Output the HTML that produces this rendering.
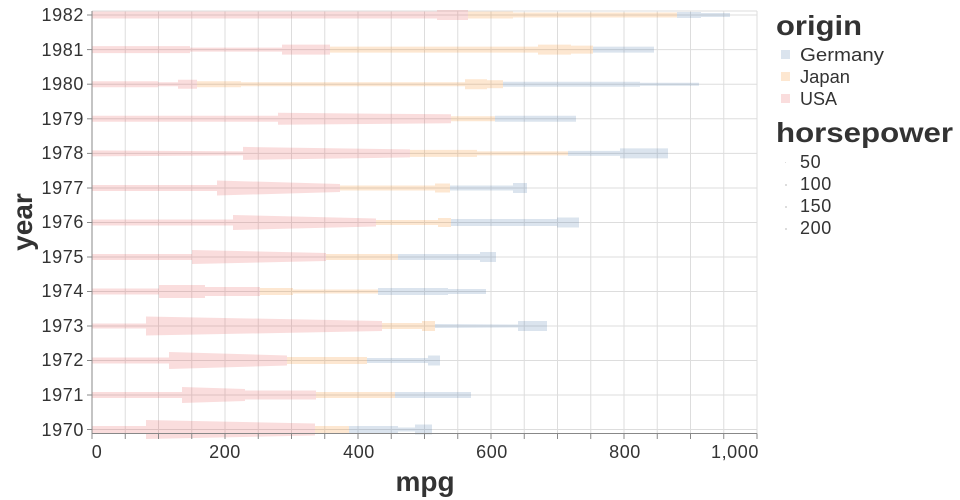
<!DOCTYPE html>
<html><head><meta charset="utf-8"><style>
html,body{margin:0;padding:0;background:#fff;width:960px;height:500px;overflow:hidden}
text{font-family:"Liberation Sans",sans-serif;fill:#333}
</style></head><body>
<svg id="s" width="960" height="500" xmlns="http://www.w3.org/2000/svg">
<g id="grid" stroke="#ddd" stroke-width="1"></g>
<g id="trails"></g>
<line x1="92" y1="433.5" x2="757" y2="433.5" stroke="#888"/>
<line x1="92" y1="11" x2="92" y2="433.5" stroke="#888"/>
<g id="ticks" stroke="#888"></g>
<g font-size="18" text-anchor="end" letter-spacing="0.6">
<text x="84" y="21">1982</text><text x="84" y="56">1981</text><text x="84" y="90">1980</text>
<text x="84" y="125">1979</text><text x="84" y="159">1978</text><text x="84" y="194">1977</text>
<text x="84" y="228">1976</text><text x="84" y="263">1975</text><text x="84" y="297">1974</text>
<text x="84" y="332">1973</text><text x="84" y="366">1972</text><text x="84" y="401">1971</text>
<text x="84" y="436">1970</text>
</g>
<g font-size="18" text-anchor="middle" letter-spacing="0.6">
<text x="97" y="458">0</text><text x="225" y="458">200</text><text x="359" y="458">400</text>
<text x="492" y="458">600</text><text x="625" y="458">800</text><text x="735" y="458">1,000</text>
</g>
<text x="425" y="491" font-size="28" font-weight="bold" text-anchor="middle">mpg</text>
<text transform="translate(32,222) rotate(-90)" font-size="28" font-weight="bold" text-anchor="middle">year</text>
<text x="776" y="35" font-size="28" font-weight="bold" textLength="86" lengthAdjust="spacingAndGlyphs">origin</text>
<rect x="781" y="50" width="9" height="9" fill="#dbe4ee"/><text x="800" y="61" font-size="18" textLength="84" lengthAdjust="spacingAndGlyphs">Germany</text>
<rect x="781" y="72" width="9" height="9" fill="#fde7d1"/><text x="800" y="83" font-size="18" textLength="50" lengthAdjust="spacingAndGlyphs">Japan</text>
<rect x="781" y="94" width="9" height="9" fill="#fadddd"/><text x="800" y="105" font-size="18" textLength="37" lengthAdjust="spacingAndGlyphs">USA</text>
<text x="776" y="142" font-size="28" font-weight="bold" textLength="177" lengthAdjust="spacingAndGlyphs">horsepower</text>
<rect x="785" y="162" width="1" height="1" fill="#ddd"/><text x="800" y="168" font-size="18" letter-spacing="0.6">50</text>
<rect x="785" y="184" width="2" height="2" fill="#ddd"/><text x="800" y="190" font-size="18" letter-spacing="0.6">100</text>
<rect x="785" y="206" width="2" height="2" fill="#ddd"/><text x="800" y="212" font-size="18" letter-spacing="0.6">150</text>
<rect x="785" y="228" width="2" height="2" fill="#ddd"/><text x="800" y="234" font-size="18" letter-spacing="0.6">200</text>
</svg>
<script>
var NS="http://www.w3.org/2000/svg";
function el(p,t,a){var e=document.createElementNS(NS,t);for(var k in a)e.setAttribute(k,a[k]);p.appendChild(e);}
var g=document.getElementById("grid"),tk=document.getElementById("ticks"),tr=document.getElementById("trails");
var ys=[15,49.6,84.2,118.8,153.4,188,222.5,257,291.5,326,360.5,395,429.5];
for(var i=0;i<=20;i++){var x=92+i*33.25;el(g,"line",{x1:x,y1:11,x2:x,y2:433.5});el(tk,"line",{x1:x,y1:433.5,x2:x,y2:439});}
el(g,"line",{x1:92,y1:11,x2:757,y2:11});el(g,"line",{x1:757,y1:11,x2:757,y2:433.5});
ys.forEach(function(y){el(g,"line",{x1:92,y1:y,x2:757,y2:y});el(tk,"line",{x1:87,y1:y,x2:92,y2:y});});
var C={P:"rgba(228,87,86,0.2)",J:"rgba(245,133,24,0.2)",G:"rgba(76,120,168,0.2)"};
var R=[
[["P",92,437,7,7],["P",437,468,10,10],["J",468,513,7,7],["J",513,677,5,5],["G",677,701,6,6],["G",701,730,4,4]],
[["P",92,190,7,7],["P",190,282,4,4],["P",282,330,10,10],["J",330,538,6,6],["J",538,571,10,10],["J",571,593,8,8],["G",593,654,6,6]],
[["P",92,158,6,6],["P",158,178,4,4],["P",178,197,9,9],["J",197,241,6,6],["J",241,465,4,4],["J",465,487,10,10],["J",487,503,8,8],["G",503,640,5,5],["G",640,699,3,3]],
[["P",92,278,6,6],["P",278,451,12,9],["J",451,495,5,5],["G",495,576,6,6]],
[["P",92,243,6,4],["P",243,410,13,8],["J",410,477,7,7],["J",477,568,4,4],["G",568,620,5,5],["G",620,668,10,10]],
[["P",92,217,6,6],["P",217,340,15,8],["J",340,435,5,5],["J",435,450,9,9],["G",450,513,5,5],["G",513,527,10,10]],
[["P",92,233,6,6],["P",233,376,15,8],["J",376,438,5,5],["J",438,451,9,9],["G",451,557,7,7],["G",557,579,10,10]],
[["P",92,192,6,6],["P",192,326,14,8],["J",326,398,6,6],["G",398,480,6,6],["G",480,496,10,10]],
[["P",92,159,6,6],["P",159,205,13,13],["P",205,260,9,9],["J",260,293,7,7],["J",293,378,4,4],["G",378,448,7,7],["G",448,486,5,5]],
[["P",92,146,5,5],["P",146,382,19,10],["J",382,422,6,6],["J",422,435,10,10],["G",435,518,4,3],["G",518,547,10,10]],
[["P",92,169,6,6],["P",169,287,17,10],["J",287,367,7,7],["G",367,428,5,5],["G",428,440,10,10]],
[["P",92,182,6,6],["P",182,245,16,12],["P",245,316,9,9],["J",316,395,6,6],["G",395,471,6,6]],
[["P",92,146,7,7],["P",146,315,19,12],["J",315,349,7,7],["G",349,398,7,7],["G",398,415,4,4],["G",415,432,10,10]]
];
R.forEach(function(row,i){var y=ys[i];row.forEach(function(s){var a=s[3]/2,b=s[4]/2;
el(tr,"polygon",{points:s[1]+","+(y-a)+" "+s[2]+","+(y-b)+" "+s[2]+","+(y+b)+" "+s[1]+","+(y+a),fill:C[s[0]]});});});
</script>
</body></html>
